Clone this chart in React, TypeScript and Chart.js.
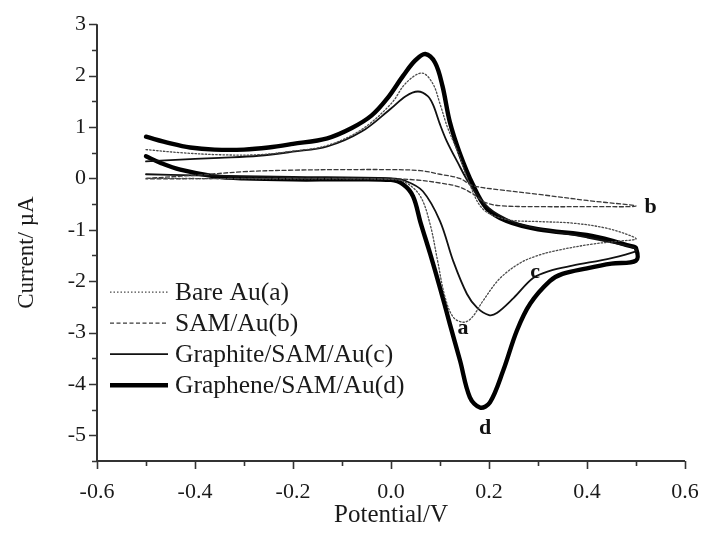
import React, { useEffect, useRef } from 'react';
import { Chart, registerables } from 'chart.js';

Chart.register(...registerables);

// ---------- data ----------
const seriesLabels = ['Bare Au(a)', 'SAM/Au(b)', 'Graphite/SAM/Au(c)', 'Graphene/SAM/Au(d)'];
const curveTags = ['a', 'b', 'c', 'd'];

// Bare Au (a): forward branch then reverse branch
const bareAuPotential = [
  -0.5, -0.43, -0.35, -0.27, -0.2, -0.13, -0.06, 0.0, 0.03, 0.063, 0.085, 0.1, 0.115, 0.137, 0.16, 0.188, 0.236, 0.3, 0.37, 0.44, 0.49, 0.5,
  0.467, 0.41, 0.34, 0.3, 0.263, 0.222, 0.188, 0.165, 0.148, 0.127, 0.11, 0.095, 0.08, 0.06, 0.03, 0.0, -0.2, -0.5,
];
const bareAuCurrent = [
  0.56, 0.5, 0.46, 0.46, 0.53, 0.64, 0.95, 1.45, 1.85, 2.05, 1.85, 1.45, 1.0, 0.5, -0.1, -0.6, -0.8, -0.84, -0.87, -0.97, -1.12, -1.18,
  -1.22, -1.28, -1.4, -1.5, -1.65, -1.95, -2.38, -2.71, -2.8, -2.7, -2.3, -1.6, -0.9, -0.35, -0.08, -0.02, -0.01, 0.0,
];

// SAM/Au (b)
const samAuPotential = [
  -0.5, -0.4, -0.3, -0.2, -0.1, 0.0, 0.06, 0.1, 0.14, 0.167, 0.22, 0.3, 0.4, 0.5,
  0.4, 0.3, 0.22, 0.19, 0.17, 0.14, 0.1, 0.05, 0.0, -0.2, -0.5,
];
const samAuCurrent = [
  0.0, 0.06, 0.13, 0.16, 0.17, 0.17, 0.15, 0.08, 0.0, -0.14, -0.22, -0.31, -0.43, -0.54,
  -0.55, -0.55, -0.53, -0.46, -0.32, -0.17, -0.09, -0.03, -0.01, 0.0, -0.01,
];

// Graphite/SAM/Au (c)
const graphitePotential = [
  -0.5, -0.4, -0.35, -0.27, -0.2, -0.13, -0.06, 0.0, 0.03, 0.055, 0.075, 0.086, 0.1, 0.114, 0.135, 0.16, 0.2, 0.25, 0.3, 0.4, 0.49, 0.5,
  0.5, 0.45, 0.37, 0.324, 0.29, 0.25, 0.216, 0.2, 0.176, 0.155, 0.127, 0.1, 0.065, 0.03, 0.0, -0.2, -0.4, -0.5,
];
const graphiteCurrent = [
  0.33, 0.38, 0.4, 0.44, 0.52, 0.62, 0.91, 1.36, 1.6, 1.69, 1.6, 1.43, 1.05, 0.72, 0.33, -0.1, -0.58, -0.85, -0.98, -1.15, -1.33, -1.38,
  -1.42, -1.55, -1.7, -1.8, -1.94, -2.33, -2.62, -2.66, -2.52, -2.25, -1.61, -0.83, -0.25, -0.05, 0.0, 0.03, 0.06, 0.08,
];

// Graphene/SAM/Au (d)
const graphenePotential = [
  -0.5, -0.45, -0.41, -0.36, -0.3, -0.25, -0.2, -0.13, -0.08, -0.04, -0.008, 0.025, 0.05, 0.07, 0.09, 0.105, 0.12, 0.14, 0.167, 0.195, 0.236, 0.3, 0.41, 0.49, 0.5,
  0.5, 0.45, 0.4, 0.35, 0.324, 0.284, 0.257, 0.229, 0.202, 0.182, 0.161, 0.141, 0.12, 0.1, 0.08, 0.06, 0.045, 0.025, 0.0, -0.1, -0.2, -0.3, -0.36, -0.43, -0.47, -0.5,
];
const grapheneCurrent = [
  0.81, 0.68, 0.6, 0.56, 0.56, 0.6, 0.67, 0.78, 0.98, 1.22, 1.55, 2.0, 2.3, 2.42, 2.25, 1.8, 1.1, 0.5, -0.12, -0.58, -0.83, -0.99, -1.12, -1.32, -1.36,
  -1.6, -1.66, -1.75, -1.86, -2.0, -2.44, -2.96, -3.74, -4.36, -4.46, -4.26, -3.55, -2.83, -2.13, -1.47, -0.85, -0.35, -0.12, -0.03, -0.02, -0.02, 0.0, 0.04, 0.17, 0.3, 0.43,
];

// axis ranges / ticks
const xMin = -0.6, xMax = 0.6, xMinorStep = 0.1;
const yMin = -5.5, yMax = 3, yMajorStep = 1, yMinorStep = 0.5;
const xTickValues = [-0.6, -0.4, -0.2, 0.0, 0.2, 0.4, 0.6];
const xTickLabels = ['-0.6', '-0.4', '-0.2', '0.0', '0.2', '0.4', '0.6'];
const xTitle = 'Potential/V';
const yTitle = 'Current/ µA';

// tag anchors (data coordinates) for curve letters
const tagPotential = [0.147, 0.53, 0.294, 0.192];
const tagCurrent = [-2.92, -0.57, -1.83, -4.87];

// ---------- styles ----------
const FONT = "'Liberation Serif', 'Times New Roman', serif";
const seriesStyles = [
  { width: 1.3, dash: [1.5, 2], color: '#4a4a4a' },
  { width: 1.3, dash: [4, 2.5], color: '#3a3a3a' },
  { width: 1.8, dash: [] as number[], color: '#111111' },
  { width: 4.4, dash: [] as number[], color: '#000000' },
];

const toPoints = (xs: number[], ys: number[]) => xs.map((v, i) => ({ x: v, y: ys[i] }));

const decorPlugin = {
  id: 'decor',
  afterDraw(chart: any) {
    const { ctx, chartArea, scales } = chart;
    const { left, right, top, bottom } = chartArea;
    const xs = scales.x, ys = scales.y;
    ctx.save();
    // axes lines
    ctx.strokeStyle = '#333';
    ctx.lineWidth = 2;
    ctx.beginPath();
    ctx.moveTo(left, top);
    ctx.lineTo(left, bottom);
    ctx.lineTo(right, bottom);
    ctx.stroke();
    // ticks
    ctx.lineWidth = 1.6;
    ctx.beginPath();
    const nx = Math.round((xMax - xMin) / xMinorStep);
    for (let i = 0; i <= nx; i++) {
      const v = xMin + i * xMinorStep;
      const px = Math.round(xs.getPixelForValue(v)) + 0.5;
      const major = i % 2 === 0;
      ctx.moveTo(px, bottom);
      ctx.lineTo(px, bottom + (major ? 8 : 5));
    }
    const ny = Math.round((yMax - yMin) / yMinorStep);
    for (let i = 0; i <= ny; i++) {
      const v = yMin + i * yMinorStep;
      const py = Math.round(ys.getPixelForValue(v)) + 0.5;
      const major = Math.abs(v - Math.round(v / yMajorStep) * yMajorStep) < 1e-6;
      ctx.moveTo(left, py);
      ctx.lineTo(left - (major ? 8 : 5), py);
    }
    ctx.stroke();

    // x tick labels
    ctx.fillStyle = '#1a1a1a';
    ctx.font = `22px ${FONT}`;
    ctx.textAlign = 'center';
    ctx.textBaseline = 'middle';
    xTickValues.forEach((v, i) => {
      ctx.fillText(xTickLabels[i], xs.getPixelForValue(v), bottom + 31);
    });

    // axis titles
    ctx.font = `25px ${FONT}`;
    ctx.fillText(xTitle, (left + right) / 2, 515);
    ctx.save();
    ctx.font = `23px ${FONT}`;
    ctx.translate(27, (top + bottom) / 2 + 10);
    ctx.rotate(-Math.PI / 2);
    ctx.fillText(yTitle, 0, 0);
    ctx.restore();

    // curve tags
    ctx.font = `bold 22px ${FONT}`;
    ctx.fillStyle = '#111';
    curveTags.forEach((t, i) => {
      ctx.fillText(t, xs.getPixelForValue(tagPotential[i]), ys.getPixelForValue(tagCurrent[i]));
    });

    // legend
    ctx.font = `25.5px ${FONT}`;
    ctx.textAlign = 'left';
    const lx0 = left + 13, lx1 = left + 71, tx = left + 78;
    const rowY0 = top + 268, rowGap = 31;
    seriesLabels.forEach((lab, i) => {
      const y = rowY0 + i * rowGap;
      const st = seriesStyles[i];
      ctx.strokeStyle = st.color;
      ctx.lineWidth = st.width;
      ctx.setLineDash(st.dash);
      ctx.beginPath();
      ctx.moveTo(lx0, y);
      ctx.lineTo(lx1, y);
      ctx.stroke();
      ctx.setLineDash([]);
      ctx.fillStyle = '#1a1a1a';
      ctx.fillText(lab, tx, y + 1);
    });
    ctx.restore();
  },
};

export default function App() {
  const canvasRef = useRef<HTMLCanvasElement | null>(null);

  useEffect(() => {
    const canvas = canvasRef.current;
    if (!canvas) return;
    const pairs = [
      [bareAuPotential, bareAuCurrent],
      [samAuPotential, samAuCurrent],
      [graphitePotential, graphiteCurrent],
      [graphenePotential, grapheneCurrent],
    ];
    const datasets = pairs.map(([xs, ys], i) => ({
      label: seriesLabels[i],
      data: toPoints(xs, ys),
      showLine: true,
      borderColor: seriesStyles[i].color,
      borderWidth: seriesStyles[i].width,
      borderDash: seriesStyles[i].dash,
      pointRadius: 0,
      pointHoverRadius: 0,
      tension: 0.35,
      fill: false,
      borderCapStyle: 'round' as const,
      borderJoinStyle: 'round' as const,
    }));

    const chart = new Chart(canvas, {
      type: 'scatter',
      data: { datasets },
      options: {
        animation: false,
        responsive: true,
        maintainAspectRatio: false,
        layout: { padding: { left: 0, right: 18, top: 22, bottom: 0 } },
        plugins: { legend: { display: false }, tooltip: { enabled: false } },
        scales: {
          x: {
            type: 'linear',
            min: xMin,
            max: xMax,
            grid: { display: false, drawTicks: false },
            border: { display: false },
            afterFit: (s: any) => { s.height = 79; },
            ticks: { display: false },
          },
          y: {
            type: 'linear',
            min: yMin,
            max: yMax,
            grid: { display: false, drawTicks: false },
            border: { display: false },
            afterFit: (s: any) => { s.width = 97; },
            ticks: {
              stepSize: 0.5,
              autoSkip: false,
              padding: 11,
              color: '#1a1a1a',
              font: { family: FONT, size: 22 },
              callback: (v: any) => {
                const n = Number(v);
                return Math.abs(n - Math.round(n)) < 1e-6 ? String(Math.round(n)) : '';
              },
            },
          },
        },
      },
      plugins: [decorPlugin],
    });
    return () => chart.destroy();
  }, []);

  return (
    <div style={{ position: 'fixed', left: 0, top: 0, width: 703, height: 540, background: '#fff' }}>
      <canvas ref={canvasRef} />
    </div>
  );
}
